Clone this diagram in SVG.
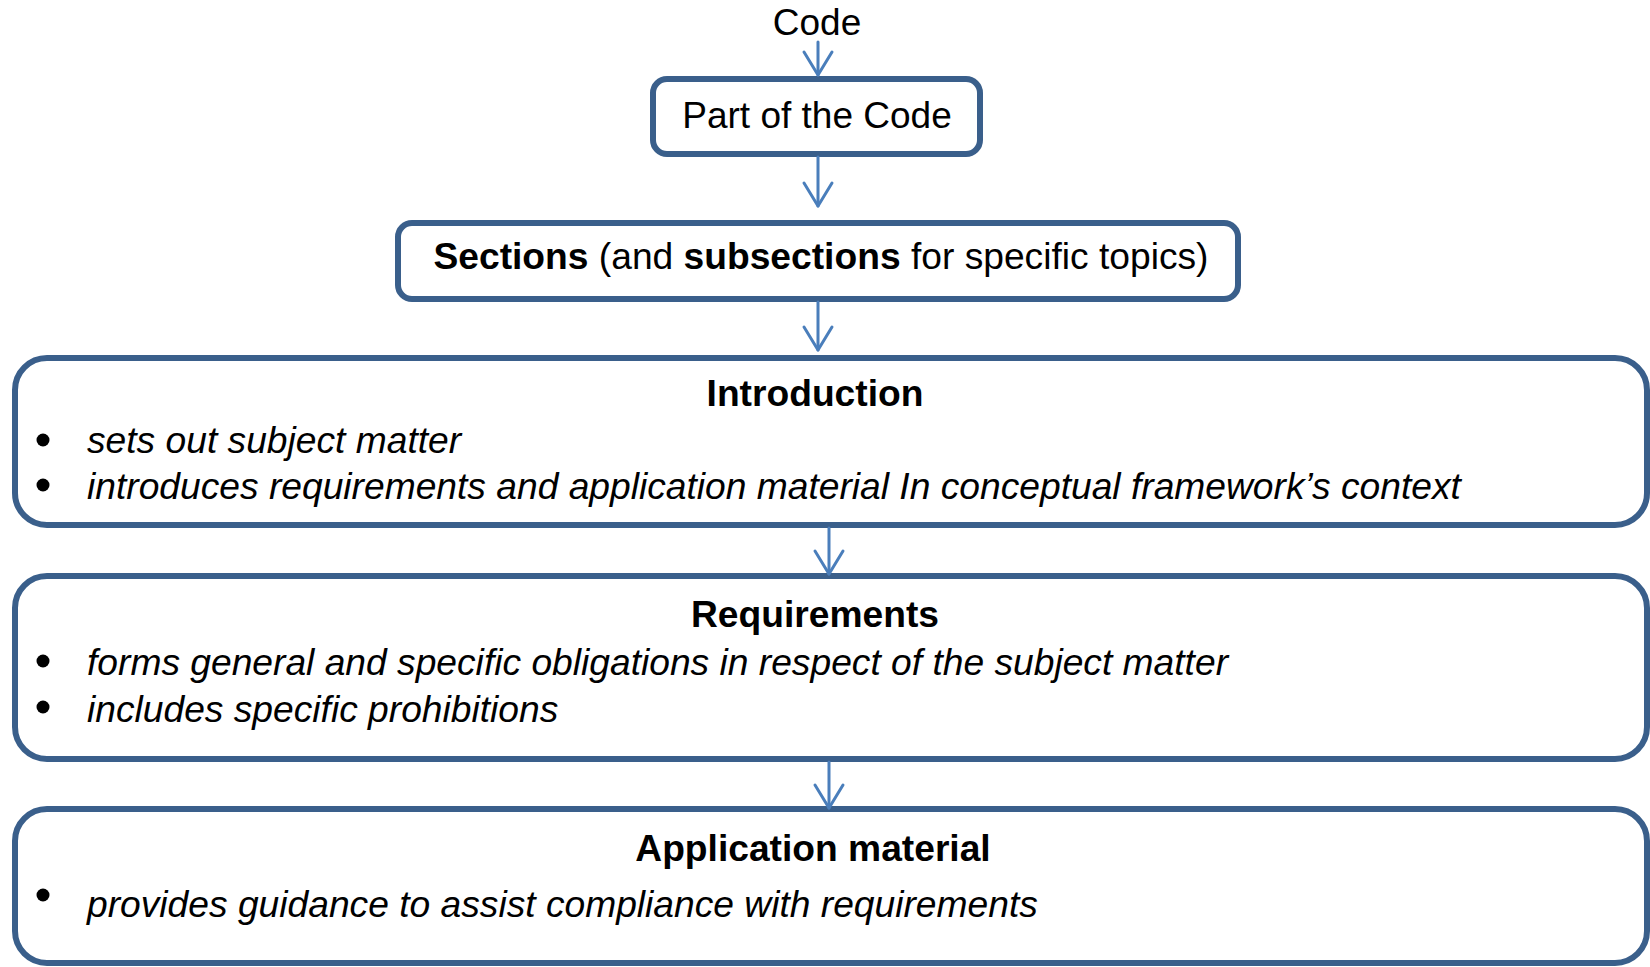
<svg xmlns="http://www.w3.org/2000/svg" width="1650" height="967" viewBox="0 0 1650 967">
<defs>
<style>
.box{fill:#ffffff;stroke:#3A5F8B;stroke-width:6}
.t{font-family:"Liberation Sans",Arial,sans-serif;font-size:37.2px;fill:#000}
.s{font-size:37px}
.b{font-weight:bold}
.i{font-style:italic}
.c{text-anchor:middle}
.dot{fill:#000}
.conn line,.conn polyline{stroke:#4A7EBB;stroke-width:3;fill:none;stroke-linecap:round;stroke-linejoin:round}
</style>
</defs>
<rect width="1650" height="967" fill="#ffffff"/>
<g id="code"><text class="t s c" x="817" y="35">Code</text></g>
<g id="part"><rect class="box" x="653" y="79" width="327" height="75" rx="14"/><text class="t s c" x="817" y="128">Part of the Code</text></g>
<g id="sections"><rect class="box" x="398" y="223" width="840" height="76" rx="14"/><text class="t c" x="821" y="269"><tspan class="b">Sections</tspan> (and <tspan class="b">subsections</tspan> for specific topics)</text></g>
<g id="introduction"><rect class="box" x="15" y="358" width="1632" height="167" rx="32"/>
<text class="t c b" x="815" y="406">Introduction</text>
<circle class="dot" cx="43" cy="440" r="6.5"/><text class="t i" x="87" y="453">sets out subject matter</text>
<circle class="dot" cx="43" cy="485" r="6.5"/><text class="t i" x="87" y="499">introduces requirements and application material In conceptual framework’s context</text></g>
<g id="requirements"><rect class="box" x="15" y="576" width="1632" height="183" rx="32"/>
<text class="t c b" x="815" y="627">Requirements</text>
<circle class="dot" cx="43" cy="661" r="6.5"/><text class="t i" x="87" y="675">forms general and specific obligations in respect of the subject matter</text>
<circle class="dot" cx="43" cy="707" r="6.5"/><text class="t i" x="87" y="722">includes specific prohibitions</text></g>
<g id="application"><rect class="box" x="15" y="809" width="1632" height="154" rx="32"/>
<text class="t c b" x="813" y="861">Application material</text>
<circle class="dot" cx="43" cy="895" r="6.5"/><text class="t i" x="87" y="917">provides guidance to assist compliance with requirements</text></g>
<g class="conn" id="connectors">
<line x1="818" y1="42" x2="818" y2="75"/><polyline points="804,52 818,75 832,52"/>
<line x1="818" y1="157" x2="818" y2="206"/><polyline points="804,183 818,206 832,183"/>
<line x1="818" y1="302" x2="818" y2="350"/><polyline points="804,327 818,350 832,327"/>
<line x1="829" y1="528" x2="829" y2="574"/><polyline points="815,551 829,574 843,551"/>
<line x1="829" y1="762" x2="829" y2="808"/><polyline points="815,785 829,808 843,785"/>
</g>
</svg>
